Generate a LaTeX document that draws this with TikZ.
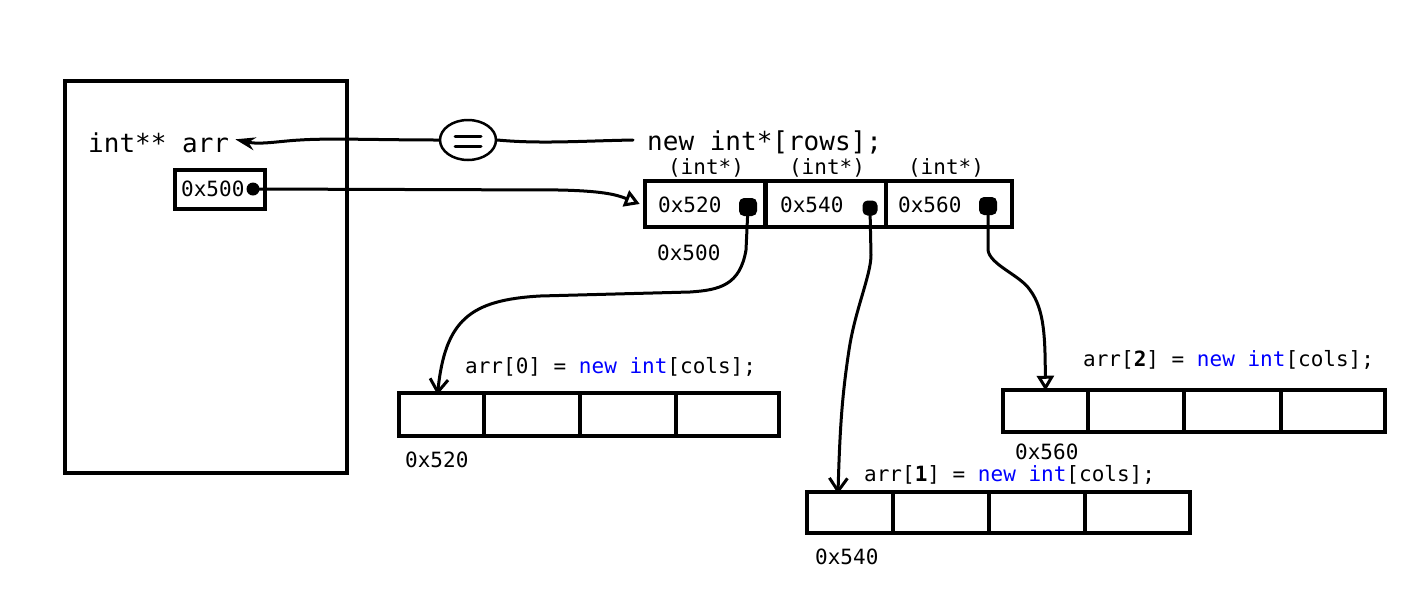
\documentclass[tikz,border=0pt]{standalone}
\usepackage{fontspec}
\setmonofont{DejaVu Sans Mono}
\usetikzlibrary{arrows.meta,shapes.geometric}
\definecolor{kwblue}{RGB}{0,0,255}
\newfontfamily\codefont{DejaVu Sans Mono}
\newcommand{\bigcode}{\codefont\fontsize{26}{30}\selectfont}
\newcommand{\smallcode}{\codefont\fontsize{21}{25}\selectfont}
\tikzset{
  txt/.style={anchor=base west, inner sep=0pt, font=\smallcode},
  bigtxt/.style={anchor=base west, inner sep=0pt, font=\bigcode},
  cell/.style={draw, line width=4.5pt, minimum height=#1, inner sep=0pt},
  dotn/.style={rounded rectangle, fill=black, inner sep=0pt, minimum size=#1},
  conn/.style={line width=3pt, line cap=round, line join=round},
  barb/.style={-{Straight Barb[length=13pt,width=18pt,line width=3pt]}},
  opentri/.style={-{Triangle[open,length=15pt,width=17pt,line width=3pt]}},
  solidtip/.style={-{Stealth[length=20pt,width=13pt]}}
}
\usetikzlibrary{shapes.misc}
\tikzset{dotn/.style={rectangle, rounded corners=5pt, fill=black, inner sep=0pt, minimum size=#1}}
\begin{document}
\begin{tikzpicture}[x=1pt,y=-1pt]
\useasboundingbox (0,0) rectangle (1406,614);
% left frame
\node[draw, line width=4.5pt, minimum width=282, minimum height=392, inner sep=0pt] (frame) at (206,277) {};
\node[bigtxt] (arrt) at (88,152) {int** arr};
\node[draw, line width=4.5pt, minimum width=90, minimum height=39, inner sep=0pt] (pbox) at (220,189.5) {};
\node[txt] (pval) at (181,196) {0x500};
\node[circle, fill=black, inner sep=0pt, minimum size=13pt] (d5) at (253,189) {};
% new int*[rows]
\node[bigtxt] (newt) at (647,150) {new int*[rows];};
\node[ellipse, draw, line width=2.5pt, minimum width=56, minimum height=40, inner sep=0pt] (eq) at (468,140) {};
\draw[line width=3pt, line cap=round] (455,136) -- (481,136) (455,146) -- (481,146);
% pointer array
\node[cell=46, minimum width=121] (p0) at (705.5,204) {};
\node[cell=46, minimum width=121] (p1) at (825.5,204) {};
\node[cell=46, minimum width=126] (p2) at (949,204) {};
\node[txt, anchor=base] (t0) at (706,174) {(int*)};
\node[txt, anchor=base] (t1) at (827,174) {(int*)};
\node[txt, anchor=base] (t2) at (946,174) {(int*)};
\node[txt] (v0) at (658,212) {0x520};
\node[txt] (v1) at (780,212) {0x540};
\node[txt] (v2) at (898,212) {0x560};
\node[dotn=18pt] (d0) at (748,207) {};
\node[dotn=15pt] (d1) at (870,208) {};
\node[dotn=18pt] (d2) at (988,206) {};
\node[txt] (a500) at (657,260) {0x500};
% arr[0]
\node[cell=43, minimum width=85] (a0c0) at (441.5,414.5) {};
\node[cell=43, minimum width=96] (a0c1) at (532,414.5) {};
\node[cell=43, minimum width=96] (a0c2) at (628,414.5) {};
\node[cell=43, minimum width=103] (a0c3) at (727.5,414.5) {};
\node[txt] (l0) at (465,373) {arr[0] = \textcolor{kwblue}{new} \textcolor{kwblue}{int}[cols];};
\node[txt] (ad0) at (405,467) {0x520};
% arr[2]
\node[cell=42, minimum width=85] (a2c0) at (1045.5,411) {};
\node[cell=42, minimum width=96] (a2c1) at (1136,411) {};
\node[cell=42, minimum width=97] (a2c2) at (1232.5,411) {};
\node[cell=42, minimum width=104] (a2c3) at (1333,411) {};
\node[txt] (l2) at (1083,366) {arr[\textbf{2}] = \textcolor{kwblue}{new} \textcolor{kwblue}{int}[cols];};
\node[txt] (ad2) at (1015,459) {0x560};
% arr[1]
\node[cell=41, minimum width=86] (a1c0) at (850,512.5) {};
\node[cell=41, minimum width=96] (a1c1) at (941,512.5) {};
\node[cell=41, minimum width=96] (a1c2) at (1037,512.5) {};
\node[cell=41, minimum width=105] (a1c3) at (1137.5,512.5) {};
\node[txt] (l1) at (864,481) {arr[\textbf{1}] = \textcolor{kwblue}{new} \textcolor{kwblue}{int}[cols];};
\node[txt] (ad1) at (815,564) {0x540};
% connectors
\draw[conn] ([xshift=-14pt]newt.west |- eq.east) .. controls (580,141) and (540,144) .. (eq.east);
\draw[conn, solidtip] (eq.west) .. controls (380,140) and (330,138) .. (300,140)
  .. controls (280,141) and (260,145) .. ([xshift=6pt,yshift=3pt]arrt.east);
\draw[conn, opentri] (d5.center) -- (560,190) .. controls (600,191) and (615,194) .. ([xshift=-3pt]p0.west);
\draw[conn, barb] (d0.center) -- (746,250) .. controls (740,285) and (720,290) .. (690,292)
  -- (540,296) .. controls (470,300) and (445,320) .. ([xshift=-4pt,yshift=-4pt]a0c0.north);
\draw[conn, barb] (d1.center) -- (871,255) .. controls (871,275) and (855,310) .. (849,350)
  .. controls (843,390) and (840,420) .. ([xshift=-12pt,yshift=-4pt]a1c0.north);
\draw[conn, opentri] (d2.center) -- (988,250) .. controls (990,265) and (1020,275) .. (1030,290)
  .. controls (1045,310) and (1045,340) .. ([yshift=-3pt]a2c0.north);
\end{tikzpicture}
\end{document}
